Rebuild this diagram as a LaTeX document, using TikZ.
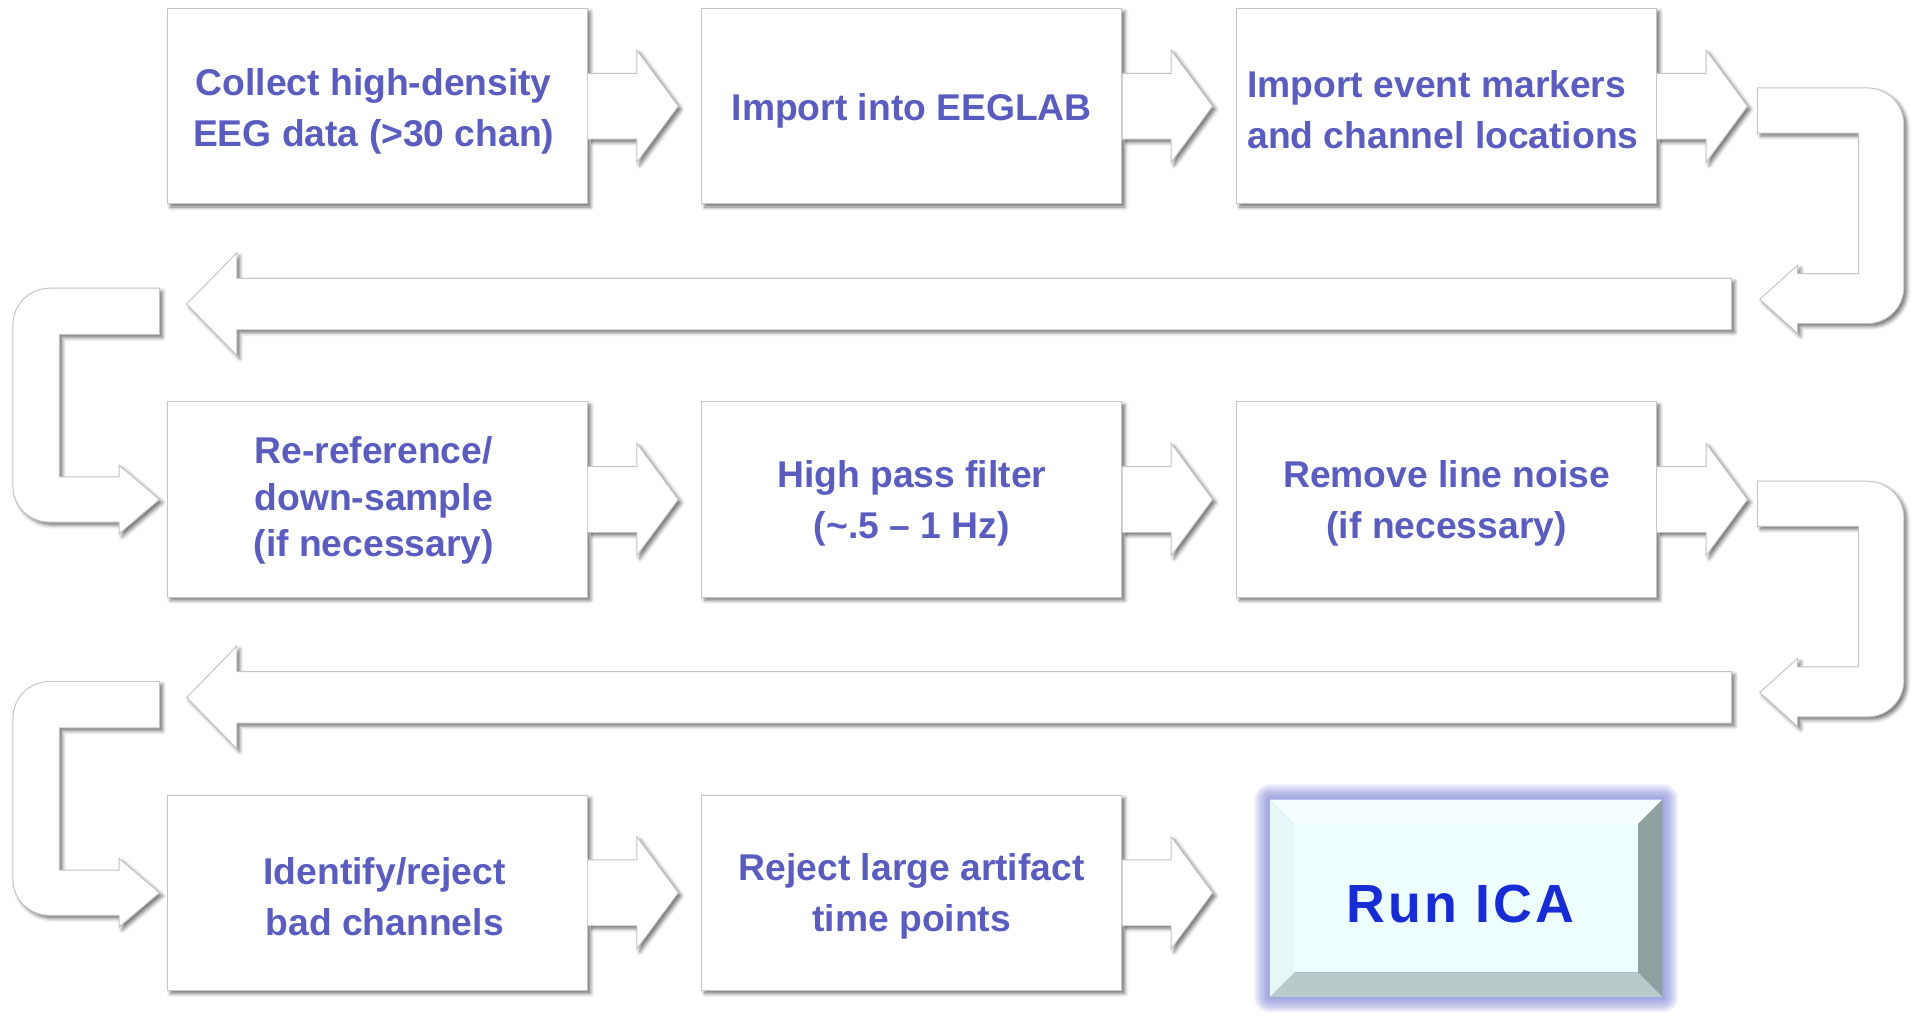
\documentclass[tikz,border=0pt]{standalone}
\usepackage{fontspec}
\setmainfont{Liberation Sans}
\newfontfamily\icafont[LetterSpace=6]{Liberation Sans}
\usetikzlibrary{calc,shadows,shadows.blur}
\definecolor{txtblue}{RGB}{90,92,192}
\definecolor{edgegray}{RGB}{196,196,196}
\definecolor{icablue}{RGB}{24,44,214}
\definecolor{glowblue}{RGB}{112,120,208}
\definecolor{faceC}{RGB}{238,253,253}
\definecolor{bevR}{RGB}{142,160,160}
\definecolor{bevB}{RGB}{184,202,202}
\definecolor{bevT}{RGB}{246,255,255}
\definecolor{bevL}{RGB}{230,247,247}
\tikzset{
  softshadow/.style={blur shadow={shadow xshift=2.5pt, shadow yshift=-2.5pt, shadow blur radius=3pt, shadow opacity=55}},
  stepbox/.style={draw=edgegray, line width=0.8pt, fill=white, minimum width=344pt, minimum height=160pt, inner sep=0pt, softshadow},
  steptext/.style={text=txtblue, font=\fontsize{30.5}{41.5}\selectfont\bfseries, align=center, inner sep=0pt},
  blockarrow/.style={draw=edgegray, line width=0.8pt, fill=white, line join=miter, softshadow},
  icabox/.style={minimum width=321pt, minimum height=161pt, inner sep=0pt},
  icatext/.style={text=icablue, font=\icafont\fontsize{44}{50}\selectfont\bfseries, inner sep=0pt},
}
\newcommand\hArrow[1]{%
  \path[blockarrow] ($(#1.east)+(0,-27)$) -- ($(#1.east)+(40,-27)$) -- ($(#1.east)+(40,-46)$)
    -- ($(#1.east)+(74,0)$) -- ($(#1.east)+(40,46)$) -- ($(#1.east)+(40,27)$) -- ($(#1.east)+(0,27)$);}
\newcommand\uTurnR[1]{%
  \begin{scope}[shift={(#1.east)}]
  \path[blockarrow] (82,-15) -- (172,-15) .. controls (188.6,-15) and (202,-1.6) .. (202,15)
    -- (202,148) .. controls (202,164.6) and (188.6,178) .. (172,178) -- (115,178) -- (115,186)
    -- (84,158) -- (115,130) -- (115,137) -- (165,137) -- (165,22) -- (82,22) -- cycle;
  \path[blockarrow] (61,141) -- (-1163,141) -- (-1163,120) -- (-1204,162) -- (-1163,204)
    -- (-1163,183) -- (61,183) -- cycle;
  \end{scope}}
\newcommand\uTurnL[1]{%
  \begin{scope}[shift={(#1.west)}]
  \path[blockarrow] (-6,-173) -- (-96,-173) .. controls (-112.6,-173) and (-126,-159.6) .. (-126,-143)
    -- (-126,-11) .. controls (-126,5.6) and (-112.6,18.5) .. (-96,18.5) -- (-39,18.5) -- (-39,28)
    -- (-6,0) -- (-39,-28) -- (-39,-18.5) -- (-88,-18.5) -- (-88,-135) -- (-6,-135) -- cycle;
  \end{scope}}
\begin{document}
\begin{tikzpicture}[x=1pt,y=-1pt]
\useasboundingbox (0,0) rectangle (1568,834);
% boxes
\node[stepbox] (b11) at (309,87) {};
\node[stepbox] (b12) at (746.5,87) {};
\node[stepbox] (b13) at (1184.5,87) {};
\node[stepbox] (b21) at (309,409) {};
\node[stepbox] (b22) at (746.5,409) {};
\node[stepbox] (b23) at (1184.5,409) {};
\node[stepbox] (b31) at (309,731) {};
\node[stepbox] (b32) at (746.5,731) {};
% texts
\node[steptext] (t11) at ($(b11.center)+(-3,4)$) {Collect high-density\\EEG data (>30 chan)};
\node[steptext] (t12) at ($(b12.center)+(0,4)$) {Import into EEGLAB};
\node[steptext, align=left] (t13) at ($(b13.center)+(-3,3)$) {Import event markers\\and channel locations};
\node[steptext, font=\fontsize{30.5}{38}\selectfont\bfseries] (t21) at ($(b21.center)+(-3,1)$) {Re-reference/\\down-sample\\(if necessary)};
\node[steptext] (t22) at ($(b22.center)+(0,3)$) {High pass filter\\(\textasciitilde.5 – 1 Hz)};
\node[steptext] (t23) at ($(b23.center)+(0,3)$) {Remove line noise\\(if necessary)};
\node[steptext] (t31) at ($(b31.center)+(6,3)$) {Identify/reject\\bad channels};
\node[steptext] (t32) at ($(b32.center)+(0,3)$) {Reject large artifact\\time points};
% Run ICA
\node[icabox] (ica) at (1200.5,735.5) {};
\foreach \i in {1,...,13}
  \fill[glowblue, opacity=0.08, rounded corners=\i pt] ($(ica.south west)+(-\i,\i)$) rectangle ($(ica.north east)+(\i,-\i)$);
\fill[bevT] (ica.north west) -- (ica.north east) -- ($(ica.north east)+(-20,20)$) -- ($(ica.north west)+(20,20)$) -- cycle;
\fill[bevR] (ica.north east) -- (ica.south east) -- ($(ica.south east)+(-20,-20)$) -- ($(ica.north east)+(-20,20)$) -- cycle;
\fill[bevB] (ica.south east) -- (ica.south west) -- ($(ica.south west)+(20,-20)$) -- ($(ica.south east)+(-20,-20)$) -- cycle;
\fill[bevL] (ica.south west) -- (ica.north west) -- ($(ica.north west)+(20,20)$) -- ($(ica.south west)+(20,-20)$) -- cycle;
\fill[faceC] ($(ica.north west)+(20,20)$) rectangle ($(ica.south east)+(-20,-20)$);
\node[icatext] (icalabel) at (1196,740) {Run ICA};
% arrows
\hArrow{b11}\hArrow{b12}\hArrow{b13}
\hArrow{b21}\hArrow{b22}\hArrow{b23}
\hArrow{b31}\hArrow{b32}
\uTurnR{b13}
\uTurnR{b23}
\uTurnL{b21}
\uTurnL{b31}
\end{tikzpicture}
\end{document}
